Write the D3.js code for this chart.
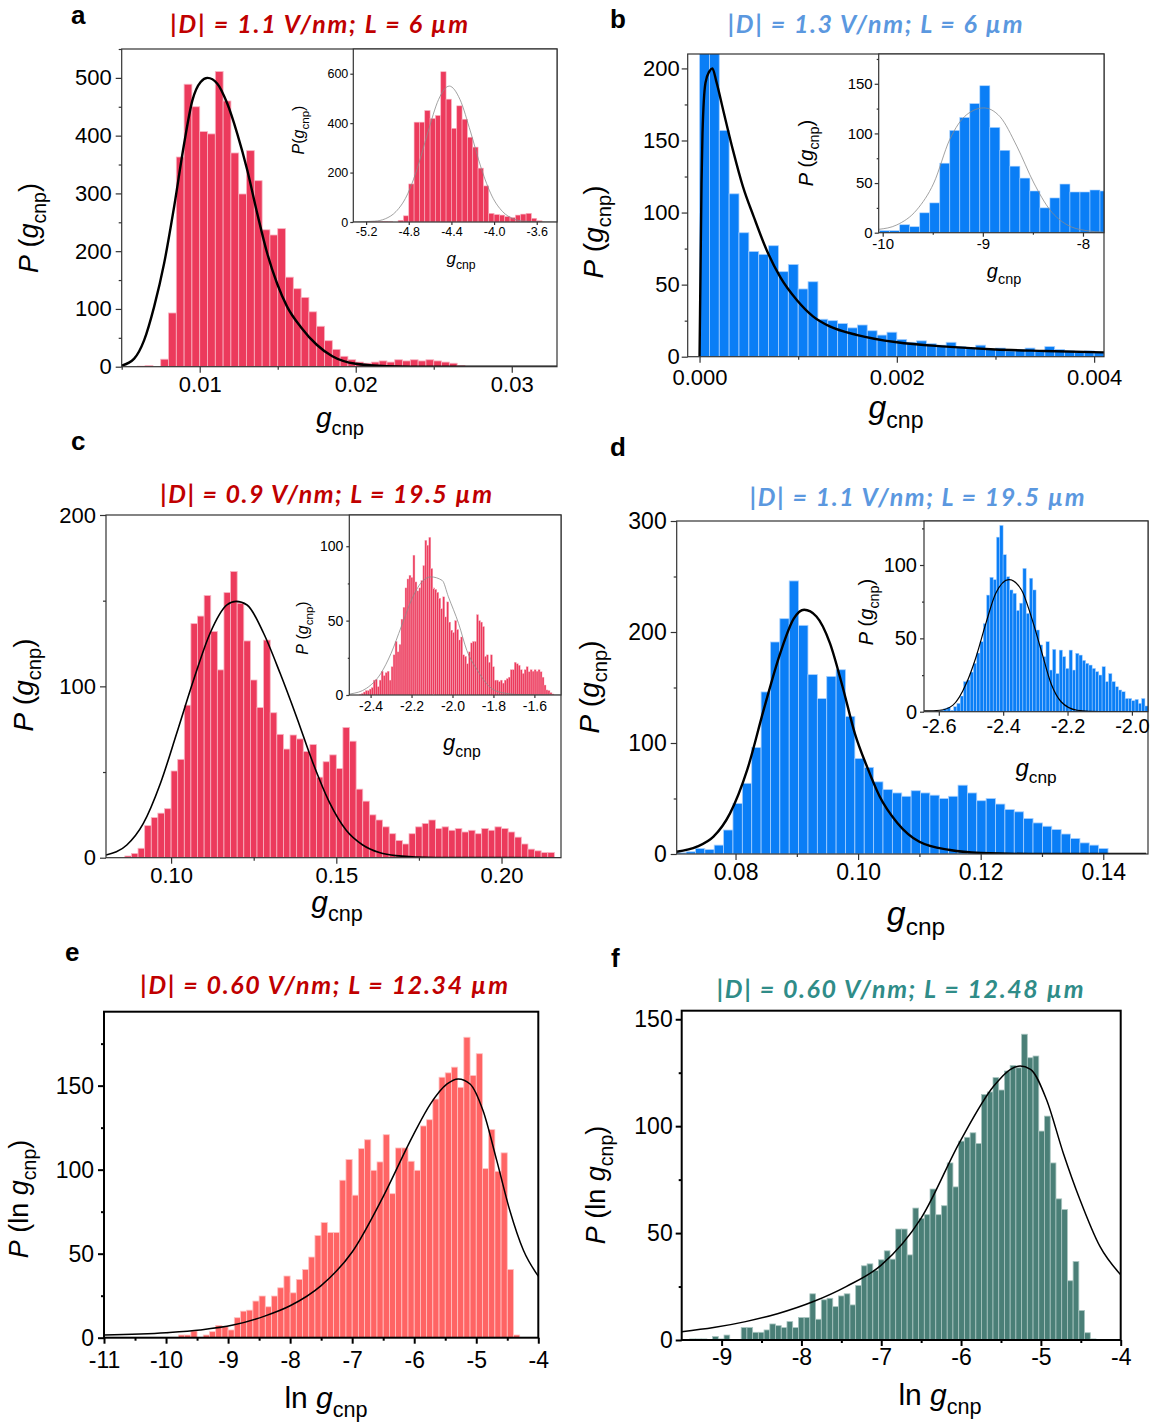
<!DOCTYPE html>
<meta charset="utf-8">
<style>
  body { margin: 0; background: #fff; }
  svg text { font-family: "Liberation Sans", Arial, sans-serif; }
</style>
<div id="fig"></div>
<script src="https://d3js.org/d3.v7.min.js"></script>
<script>
// ---------- values ----------
// a : |D| = 1.1 V/nm, L = 6 um
var aStart = 0.006, aStep = 0.0005;
var aCounts = [1, 2, 0, 13, 93, 363, 489, 450, 407, 403, 511, 460, 370, 299, 374, 322, 237, 228, 239, 155,
  135, 120, 95, 70, 45, 30, 18, 12, 8, 6, 8, 10, 8, 12, 10, 12, 10, 12, 10, 8, 6, 2];
var aFit = [[0.005, 2], [0.0058, 14], [0.00644, 46], [0.00708, 104], [0.00772, 179], [0.00836, 277], [0.009, 386],
  [0.00953, 461], [0.01006, 493], [0.0105, 500], [0.01113, 490], [0.01176, 456], [0.0124, 404], [0.01305, 340],
  [0.01369, 265], [0.01433, 196], [0.01496, 144], [0.0156, 104], [0.0165, 68], [0.0175, 38], [0.0185, 18],
  [0.02, 5], [0.022, 1], [0.025, 0], [0.033, 0]];
var aInStart = -5.2, aInStep = 0.05;
var aInCounts = [2, 2, 1, 2, 1, 0, 7, 25, 154, 404, 404, 451, 419, 431, 608, 497, 379, 470, 416, 343, 303,
  218, 146, 35, 30, 28, 22, 18, 28, 32, 35, 15, 5];
var aInFit = [[-5.32, 0.5], [-5.12, 3.5], [-5.02, 13], [-4.92, 42], [-4.82, 105], [-4.72, 217], [-4.62, 364],
  [-4.52, 496], [-4.42, 550], [-4.32, 496], [-4.22, 364], [-4.12, 217], [-4.02, 105], [-3.92, 42],
  [-3.82, 13], [-3.72, 3.5], [-3.52, 0.3], [-3.41, 0]];

// b : |D| = 1.3 V/nm, L = 6 um
var bStart = 0, bStep = 0.0001;
var bCounts = [260, 240, 157, 113, 86, 73, 71, 77, 59, 64, 47, 52, 26, 25, 23, 20, 22, 18, 15, 17, 12, 10,
  11, 9, 8, 10, 7, 6, 8, 5, 6, 4, 5, 6, 4, 7, 5, 4, 3, 4, 3];
var bFit = [[0, 0], [0.00001, 60], [0.00002, 120], [0.00003, 155], [0.00006, 190], [0.0001, 198],
  [0.00013, 200], [0.00017, 191], [0.00024, 171], [0.00034, 143], [0.00044, 118], [0.00055, 97],
  [0.00068, 74], [0.00082, 55], [0.00099, 39], [0.00115, 28], [0.00132, 21], [0.0016, 15], [0.002, 10],
  [0.0025, 7], [0.003, 5], [0.0035, 4], [0.0041, 3]];
var bInStart = -10.03, bInStep = 0.1;
var bInCounts = [2, 2, 8, 6, 20, 30, 70, 103, 116, 130, 148, 106, 83, 67, 55, 42, 25, 35, 49, 41, 41, 43, 42];
var bInFit = [[-10.04, 3.4], [-9.86, 7.8], [-9.66, 23], [-9.49, 50], [-9.33, 94], [-9.16, 119], [-8.99, 125.7],
  [-8.83, 117], [-8.66, 87], [-8.49, 50], [-8.33, 23], [-8.16, 8], [-7.96, 2], [-7.79, 0.5]];

// c : |D| = 0.9 V/nm, L = 19.5 um
var cStart = 0.086, cStep = 0.002;
var cCounts = [1, 2.5, 5.5, 18.7, 23.4, 26, 28.6, 50.6, 57.4, 89, 136.6, 141, 153, 132, 109.6, 154.7, 167,
  148.5, 126.5, 103.7, 87.6, 127, 84.6, 72, 63.4, 71.6, 69.3, 62, 66, 47, 56, 60, 52, 76, 68, 40, 33, 25,
  22, 18, 14, 10, 8, 14, 18, 20, 22, 17, 18, 16, 17, 15, 16, 14, 17, 16, 18, 17, 15, 12, 8, 5, 4, 3, 3];
var cFit = [[0.0803, 1.6], [0.0866, 7.4], [0.0916, 20], [0.0967, 43], [0.1017, 72.6], [0.1068, 103.7],
  [0.1118, 131], [0.1169, 147.5], [0.1197, 149.6], [0.123, 147.5], [0.128, 131], [0.133, 107.6],
  [0.138, 82], [0.143, 55], [0.148, 32], [0.153, 16], [0.158, 7.4], [0.163, 3], [0.168, 1.2], [0.18, 0.1],
  [0.218, 0]];
var cInStart = -2.455, cInStep = 0.0097;
var cInCounts = [0.5, 1, 2, 3, 3, 4, 5, 10, 10.5, 5.6, 10, 16, 13, 15, 16, 10, 19, 27, 36, 29, 34, 51, 59, 72,
  78, 80.5, 79, 94, 76, 70, 72, 77, 87, 104, 100.7, 106, 85, 72, 71, 69, 65, 58, 66, 52.5, 62.6, 49, 43.6,
  42, 50, 44, 37, 39, 27, 26, 21, 29, 35, 36, 36, 54, 50, 49, 46, 26, 27, 22, 27, 19, 10, 10, 9, 10, 8, 10,
  11, 12, 17, 17, 22, 21, 20, 17, 14.5, 17, 19, 15.6, 17, 16, 17, 16, 17, 15.6, 12, 6.7, 3.4, 3, 1.6, 0.7];
var cInFit = [[-2.5, 0.7], [-2.42, 4.5], [-2.35, 14.5], [-2.3, 28], [-2.25, 46], [-2.2, 64], [-2.15, 76],
  [-2.106, 79.4], [-2.05, 77], [-2.02, 66], [-1.97, 48], [-1.93, 30], [-1.88, 17], [-1.82, 5.6],
  [-1.76, 1.6], [-1.66, 0.2], [-1.47, 0]];

// d : |D| = 1.1 V/nm, L = 19.5 um
var dStart = 0.0704, dStep = 0.00153;
var dCounts = [1, 2, 5, 4, 8, 21.6, 45.6, 63.7, 96, 146, 191, 212, 246, 206, 161.6, 140, 160, 166, 124, 86,
  78, 65, 58, 55, 52, 57, 55, 53, 50, 52, 62, 55, 48, 50, 45, 40, 38, 32, 28, 25, 22, 18, 14, 10, 8, 5];
var dFit = [[0.0704, 2], [0.0737, 6.6], [0.0764, 15.6], [0.0791, 36.6], [0.0819, 75.7], [0.0846, 130],
  [0.0873, 181], [0.0895, 212], [0.0912, 220], [0.0932, 214], [0.0954, 190], [0.0975, 150], [0.0995, 108],
  [0.1015, 78], [0.1035, 52], [0.1064, 28], [0.11, 11], [0.115, 3.6], [0.12, 1], [0.13, 0], [0.147, 0]];
var dInStart = -2.595, dInStep = 0.01025;
var dInCounts = [1, 2, 3, 1, 3.4, 5.7, 10.7, 20.5, 21.6, 27, 33, 40, 47.7, 60, 79.5, 91.6, 90, 119, 127, 107,
  92, 83, 80.7, 69, 74, 97.7, 67, 91, 83, 55.7, 45.5, 37.5, 47.7, 28.4, 42.5, 26, 42, 37.5, 29.5, 42, 28.4,
  39.8, 38.6, 35, 33, 31.8, 29.5, 27.3, 25, 30.7, 20.5, 26, 20.5, 17, 14.8, 13.6, 9, 9, 7.5, 8.4, 5.7, 9,
  3.9, 6.8];
var dInFit = [[-2.646, 0.5], [-2.597, 1], [-2.556, 4.5], [-2.515, 19], [-2.484, 37.5], [-2.454, 60],
  [-2.423, 80.7], [-2.382, 90], [-2.343, 83], [-2.313, 65], [-2.282, 42], [-2.251, 19], [-2.22, 6.8],
  [-2.17, 1], [-2.1, 0], [-1.95, 0]];

// e : |D| = 0.60 V/nm, L = 12.34 um
var eStart = -9.8, eStep = 0.1;
var eCounts = [1.6, 1.6, 4, 0, 1.6, 3.6, 7.3, 6.5, 4.6, 11.9, 15.8, 16.4, 21.8, 24.8, 18.4, 24.8, 29.7, 36.7,
  26.7, 34.7, 40.6, 48, 60.8, 68.5, 62.6, 62.6, 93.7, 106, 84.8, 112.5, 117.8, 99.6, 104.6, 120.8, 85.7,
  112.9, 112.9, 105, 99.6, 126, 129.7, 142, 155, 157.6, 161, 149, 178.8, 156, 169, 100.6, 123.8, 99, 110,
  40.6, 1.6];
var eFit = [[-11, 1.6], [-10, 3], [-9.45, 4.6], [-8.92, 7.5], [-8.4, 13], [-8, 19], [-7.5, 31], [-7, 51],
  [-6.5, 84], [-6.01, 121], [-5.74, 139], [-5.47, 151], [-5.29, 154], [-5.1, 151],
  [-4.89, 135], [-4.67, 105.5], [-4.46, 75.8], [-4.24, 52], [-4.0, 36.6]];

// f : |D| = 0.60 V/nm, L = 12.48 um
var fStart = -9.40, fStep = 0.0717;
var fCounts = [0.5, 0.5, 0.5, 0, 1.6, 0.5, 2.3, 0, 0, 5.8, 5.8, 3.6, 3.6, 4.7, 7.5, 6.7, 5.8, 8.6, 5.8, 10.5,
  10.5, 21.6, 9.7, 18.8, 19.5, 15.6, 20.6, 21.6, 16.4, 25.5, 34.7, 35.6, 32.5, 37.5, 41.7, 37.8, 51.9, 51.9,
  39.8, 61.7, 56.9, 58.6, 70.6, 58.6, 62.8, 82.8, 71.6, 93, 94.8, 96.9, 91.9, 114.8, 116, 122.7, 116.9,
  125.8, 128.4, 127.3, 143, 132, 132.8, 97.7, 104.7, 82.8, 66, 61, 27.7, 36.7, 13.8, 3.4, 0.5];
var fFit = [[-9.5, 3.9], [-9.1, 5.8], [-8.7, 8.6], [-8.3, 12.3], [-7.85, 18], [-7.44, 25], [-7, 35],
  [-6.5, 57], [-6.01, 93], [-5.59, 118.75], [-5.38, 126.6], [-5.26, 128.1],
  [-5.13, 126.6], [-4.93, 112.5], [-4.72, 87.5], [-4.51, 65.6], [-4.26, 43.75], [-4.0, 30.5]];

// ---------- drawing ----------
var svg = d3.select("#fig").append("svg").attr("width", 1156).attr("height", 1425);
var clipN = 0;

function fmt(n) { return function(d) { return d.toFixed(n); }; }

// text with italic letters and subscripts: parts = [[text, "i"|"s"|"n"], ...]
function rich(x, y, parts, size, rotate, anchor) {
  var t = svg.append("text")
    .attr("text-anchor", anchor || "middle")
    .attr("font-size", size)
    .attr("transform", "translate(" + x + "," + y + ")" + (rotate ? " rotate(-90)" : ""));
  var shift = 0;
  parts.forEach(function(p) {
    var s = t.append("tspan").text(p[0]);
    if (p[1] == "i") s.attr("font-style", "italic");
    if (p[1] == "s") {
      s.attr("font-size", size * 0.72).attr("dy", size * 0.3);
      shift = size * 0.3;
    } else if (shift) {
      s.attr("dy", -shift);
      shift = 0;
    }
  });
  return t;
}

function panel(o) {
  var x = d3.scaleLinear().domain(o.xDom).range([o.left, o.right]);
  var y = d3.scaleLinear().domain(o.yDom).range([o.bottom, o.top]);
  var g = svg.append("g");
  if (o.inset) {
    g.append("rect").attr("x", o.left).attr("y", o.top)
      .attr("width", o.right - o.left).attr("height", o.bottom - o.top).attr("fill", "#fff");
  }
  var id = "clip" + (clipN++);
  svg.append("clipPath").attr("id", id).append("rect")
    .attr("x", o.left).attr("y", o.top).attr("width", o.right - o.left).attr("height", o.bottom - o.top);
  var pg = g.append("g").attr("clip-path", "url(#" + id + ")");

  var bars = o.counts.map(function(v, i) {
    return { x0: o.start + i * o.step, x1: o.start + (i + 1) * o.step, v: v };
  }).filter(function(d) { return d.v > 0; });

  pg.selectAll("rect.bar").data(bars).join("rect")
    .attr("class", "bar")
    .attr("x", function(d) { return x(d.x0); })
    .attr("width", function(d) { return x(d.x1) - x(d.x0); })
    .attr("y", function(d) { return y(d.v); })
    .attr("height", function(d) { return y(0) - y(d.v); })
    .attr("fill", o.fill)
    .attr("stroke", o.edge)
    .attr("stroke-width", o.edgeW || 0.8);

  pg.append("path").datum(o.fit)
    .attr("fill", "none")
    .attr("stroke", o.fitColor || "#000")
    .attr("stroke-width", o.fitW)
    .attr("d", d3.line()
      .x(function(d) { return x(d[0]); })
      .y(function(d) { return y(d[1]); })
      .curve(d3.curveMonotoneX));

  var ac = o.axisColor || "#333";
  var aw = o.axisW || 1.2;

  function styleAxis(a) {
    a.select(".domain").remove();
    a.attr("font-family", null).attr("font-size", o.fs);
    a.selectAll("line").attr("stroke", ac).attr("stroke-width", aw);
    a.selectAll("text").attr("fill", "#000");
  }
  var tk = o.tk || 6;
  var xa = g.append("g").attr("transform", "translate(0," + o.bottom + ")")
    .call(d3.axisBottom(x).tickValues(o.xTicks).tickFormat(o.xFmt).tickSize(tk).tickPadding(o.xpad || o.pad || 4));
  styleAxis(xa);
  if (o.xMinor) {
    var xm = g.append("g").attr("transform", "translate(0," + o.bottom + ")")
      .call(d3.axisBottom(x).tickValues(o.xMinor).tickFormat("").tickSize(tk / 2));
    styleAxis(xm);
  }
  var ya = g.append("g").attr("transform", "translate(" + o.left + ",0)")
    .call(d3.axisLeft(y).tickValues(o.yTicks).tickFormat(d3.format("d")).tickSize(tk).tickPadding(o.pad || 4));
  styleAxis(ya);
  if (o.yMinor) {
    var ym = g.append("g").attr("transform", "translate(" + o.left + ",0)")
      .call(d3.axisLeft(y).tickValues(o.yMinor).tickFormat("").tickSize(tk / 2));
    styleAxis(ym);
  }
  g.append("rect").attr("x", o.left).attr("y", o.top)
    .attr("width", o.right - o.left).attr("height", o.bottom - o.top)
    .attr("fill", "none").attr("stroke", ac).attr("stroke-width", aw);
}

var red = "#EC3A5C", redEdge = "#F8B4C2";
var blue = "#0A7EF6", blueEdge = "#A6D0FF";

// panel a
panel({ left: 121.7, right: 557, top: 49, bottom: 366.7, xDom: [0.005, 0.0329], yDom: [0, 550],
  counts: aCounts, start: aStart, step: aStep, fit: aFit, fill: red, edge: redEdge, fitW: 2.4,
  xTicks: [0.01, 0.02, 0.03], xMinor: [0.005, 0.015, 0.025], xFmt: fmt(2),
  yTicks: [0, 100, 200, 300, 400, 500], yMinor: [50, 150, 250, 350, 450, 550], fs: 22 });
panel({ inset: true, left: 353.3, right: 557, top: 49, bottom: 222, xDom: [-5.32, -3.41], yDom: [0, 700],
  counts: aInCounts, start: aInStart, step: aInStep, fit: aInFit, fill: red, edge: redEdge, edgeW: 0.6,
  fitColor: "#8a8a8a", fitW: 0.8, tk: 3, pad: 2,
  xTicks: [-5.2, -4.8, -4.4, -4.0, -3.6], xFmt: fmt(1), yTicks: [0, 200, 400, 600], fs: 12.5 });

// panel b
panel({ left: 687.7, right: 1104, top: 54, bottom: 356.7, xDom: [-0.00012, 0.0041], yDom: [0, 210],
  counts: bCounts, start: bStart, step: bStep, fit: bFit, fill: blue, edge: blueEdge, fitW: 2.4,
  xTicks: [0, 0.002, 0.004], xMinor: [0.001, 0.003], xFmt: fmt(3),
  yTicks: [0, 50, 100, 150, 200], yMinor: [25, 75, 125, 175], fs: 22, pad: 2, xpad: 7 });
panel({ inset: true, left: 878.7, right: 1104, top: 54, bottom: 232.7, xDom: [-10.04, -7.79], yDom: [0, 180],
  counts: bInCounts, start: bInStart, step: bInStep, fit: bInFit, fill: blue, edge: blueEdge, edgeW: 0.6,
  fitColor: "#8a8a8a", fitW: 0.8, tk: 4, pad: 2,
  xTicks: [-10, -9, -8], xMinor: [-9.5, -8.5], xFmt: fmt(0),
  yTicks: [0, 50, 100, 150], yMinor: [25, 75, 125, 175], fs: 15 });

// panel c
panel({ left: 106, right: 561, top: 515, bottom: 857.7, xDom: [0.0803, 0.218], yDom: [0, 200],
  counts: cCounts, start: cStart, step: cStep, fit: cFit, fill: red, edge: redEdge, fitW: 1.6,
  xTicks: [0.10, 0.15, 0.20], xMinor: [0.125, 0.175], xFmt: fmt(2),
  yTicks: [0, 100, 200], yMinor: [50, 150], fs: 22 });
panel({ inset: true, left: 349.3, right: 561, top: 515, bottom: 695, xDom: [-2.504, -1.47], yDom: [0, 121],
  counts: cInCounts, start: cInStart, step: cInStep, fit: cInFit, fill: red, edge: redEdge, edgeW: 0.4,
  fitColor: "#8a8a8a", fitW: 0.8, tk: 3, pad: 3,
  xTicks: [-2.4, -2.2, -2.0, -1.8, -1.6], xFmt: fmt(1), yTicks: [0, 50, 100], yMinor: [25, 75], fs: 14 });

// panel d
panel({ left: 676.7, right: 1148, top: 521, bottom: 854, xDom: [0.0704, 0.1473], yDom: [0, 300],
  counts: dCounts, start: dStart, step: dStep, fit: dFit, fill: blue, edge: blueEdge, fitW: 2.4,
  xTicks: [0.08, 0.10, 0.12, 0.14], xMinor: [0.09, 0.11, 0.13], xFmt: fmt(2),
  yTicks: [0, 100, 200, 300], yMinor: [50, 150, 250], fs: 23 });
panel({ inset: true, left: 924, right: 1148, top: 521, bottom: 711.7, xDom: [-2.646, -1.95], yDom: [0, 130],
  counts: dInCounts, start: dInStart, step: dInStep, fit: dInFit, fill: blue, edge: blueEdge, edgeW: 0.5,
  fitColor: "#000", fitW: 1.2, tk: 4, pad: 3,
  xTicks: [-2.6, -2.4, -2.2, -2.0], xFmt: fmt(1), yTicks: [0, 50, 100], yMinor: [25, 75, 125], fs: 20 });

// panel e
panel({ left: 104, right: 538.3, top: 1011.7, bottom: 1337.7, xDom: [-11, -4], yDom: [0, 194],
  counts: eCounts, start: eStart, step: eStep, fit: eFit, fill: "#FF6464", edge: "#FFC2C2", fitW: 1.5,
  axisColor: "#000", axisW: 2,
  xTicks: [-11, -10, -9, -8, -7, -6, -5, -4], xMinor: [-10.5, -9.5, -8.5, -7.5, -6.5, -5.5, -4.5], xFmt: fmt(0),
  yTicks: [0, 50, 100, 150], yMinor: [25, 75, 125, 175], fs: 23, pad: 4, xpad: 8 });

// panel f
panel({ left: 681.7, right: 1120.7, top: 1010.7, bottom: 1340, xDom: [-9.5, -4], yDom: [0, 154],
  counts: fCounts, start: fStart, step: fStep, fit: fFit, fill: "#4A7F77", edge: "#A9C5C0", fitW: 1.5,
  axisColor: "#000", axisW: 2,
  xTicks: [-9, -8, -7, -6, -5, -4], xMinor: [-8.5, -7.5, -6.5, -5.5, -4.5], xFmt: fmt(0),
  yTicks: [0, 50, 100, 150], yMinor: [25, 75, 125], fs: 23, pad: 3 });

// titles
var titleFont = "Lato, 'Open Sans', sans-serif";
[["|D| = 1.1 V/nm; L = 6 \u00b5m", 319, 33, "#C00000", 298],
 ["|D| = 1.3 V/nm; L = 6 \u00b5m", 875, 33, "#5B98DF", 295],
 ["|D| = 0.9 V/nm; L = 19.5 \u00b5m", 326, 503, "#C00000", 332],
 ["|D| = 1.1 V/nm; L = 19.5 \u00b5m", 917, 506, "#5B98DF", 335],
 ["|D| = 0.60 V/nm; L = 12.34 \u00b5m", 324, 994, "#C00000", 368],
 ["|D| = 0.60 V/nm; L = 12.48 \u00b5m", 900, 998, "#2F8C88", 367]].forEach(function(t) {
  svg.append("text").attr("x", t[1]).attr("y", t[2]).attr("text-anchor", "middle")
    .style("font-family", titleFont).attr("font-weight", "bold").attr("font-style", "italic")
    .attr("font-size", 25).attr("fill", t[3])
    .attr("textLength", t[4]).attr("lengthAdjust", "spacing")
    .text(t[0]);
});

// panel letters
[["a", 71, 24], ["b", 610, 28], ["c", 71, 450], ["d", 610, 456], ["e", 65, 961], ["f", 611, 967]]
  .forEach(function(l) {
    svg.append("text").attr("x", l[1]).attr("y", l[2]).attr("font-weight", "bold")
      .attr("font-size", 26).text(l[0]);
  });

// axis labels
var gl = [["g", "i"], ["cnp", "s"]];
var pl = [["P", "i"], [" (", "n"], ["g", "i"], ["cnp", "s"], [")", "n"]];
var pl2 = [["P", "i"], ["(", "n"], ["g", "i"], ["cnp", "s"], [")", "n"]];
var lnl = [["ln ", "n"], ["g", "i"], ["cnp", "s"]];
var pln = [["P", "i"], [" (ln ", "n"], ["g", "i"], ["cnp", "s"], [")", "n"]];

rich(340, 427, gl, 28);
rich(38, 228, pl, 27, true);
rich(461, 264, gl, 17);
rich(304, 130, pl2, 16, true);

rich(896, 418, gl, 32);
rich(603, 232, pl, 28, true);
rich(1004, 278, gl, 20);
rich(813, 153, pl, 20, true);

rich(337, 912, gl, 30);
rich(33, 685, pl, 28, true);
rich(462, 750, gl, 22);
rich(308, 628, pl, 16, true);

rich(916, 925, gl, 34);
rich(599, 687, pl, 28, true);
rich(1036, 776, gl, 24);
rich(873, 612, pl, 20, true);

rich(326, 1408, lnl, 30);
rich(28, 1199, pln, 27, true);
rich(940, 1405, lnl, 30);
rich(605, 1185, pln, 27, true);
</script>
